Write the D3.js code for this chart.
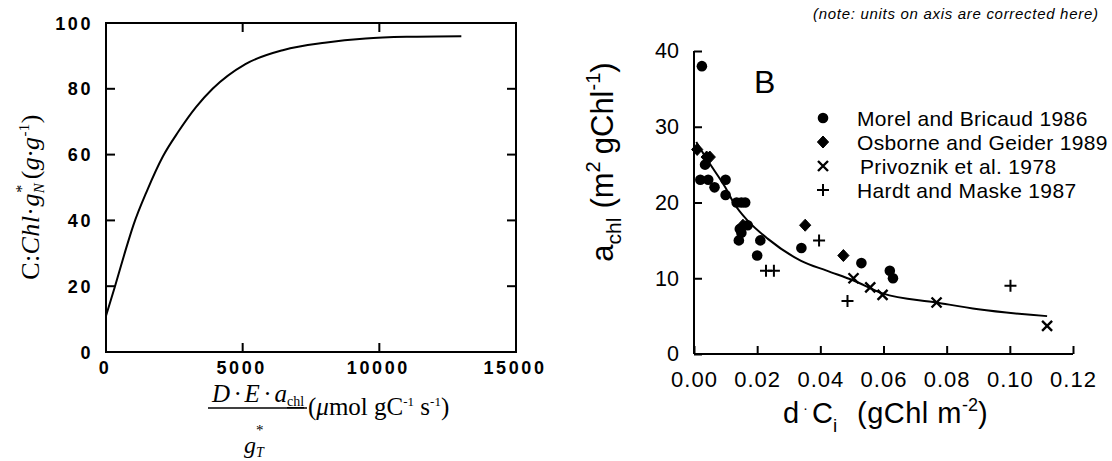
<!DOCTYPE html>
<html>
<head>
<meta charset="utf-8">
<script src="https://cdn.jsdelivr.net/npm/d3@7"></script>
<style>
  body { margin: 0; background: #fff; }
  svg { display: block; }
</style>
</head>
<body>
<svg id="chart" width="1112" height="461"></svg>
<script>
// ---- panel A: saturating curve
const curveAx = [0, 330, 700, 1000, 1500, 2085, 2650, 3300, 3900, 5100, 6500, 8000, 9500, 11000, 13000];
const curveAy = [11, 20, 30.5, 38.5, 49, 59.5, 67, 74.5, 80, 87.5, 91.8, 94, 95.3, 95.8, 96];
const xTicksA = [0, 5000, 10000, 15000];
const yTicksA = [0, 20, 40, 60, 80, 100];

// ---- panel B: scatter + fitted line
const morel = [[0.0025, 38], [0.002, 23], [0.0045, 23], [0.0035, 25], [0.0065, 22], [0.01, 23], [0.01, 21],
  [0.0135, 20], [0.015, 20], [0.0162, 20], [0.0145, 16.5], [0.015, 16], [0.0142, 15], [0.017, 17],
  [0.021, 15], [0.02, 13], [0.034, 14], [0.053, 12], [0.062, 11], [0.063, 10]];
const osborne = [[0.001, 27], [0.004, 26], [0.005, 26], [0.0155, 17], [0.0352, 17], [0.0473, 13]];
const privoznik = [[0.0505, 10], [0.0558, 8.8], [0.0597, 7.8], [0.0768, 6.8], [0.1118, 3.7]];
const hardt = [[0.0228, 11], [0.0253, 11], [0.0396, 15], [0.0486, 7], [0.1002, 9]];
const fitX = [0.0007, 0.0044, 0.0099, 0.0128, 0.017, 0.0234, 0.0339, 0.042, 0.0505, 0.0597, 0.0768, 0.09, 0.1118];
const fitY = [28, 25.5, 22, 19.8, 17.6, 15.2, 12.3, 11, 9.7, 8, 6.8, 5.9, 5];
const xTicksB = [0, 0.02, 0.04, 0.06, 0.08, 0.10, 0.12];
const yTicksB = [0, 10, 20, 30, 40];
const legendLabels = ["Morel and Bricaud 1986", "Osborne and Geider 1989", "Privoznik et al. 1978", "Hardt and Maske 1987"];

const svg = d3.select("#chart");
const sans = "'Liberation Sans', Arial, Helvetica, sans-serif";
const serif = "'Liberation Serif', 'Times New Roman', serif";

// ================= panel A =================
const xA = d3.scaleLinear().domain([0, 15000]).range([106, 516]);
const yA = d3.scaleLinear().domain([0, 100]).range([352, 23]);
const gA = svg.append("g");

gA.append("rect")
  .attr("x", xA(0)).attr("y", yA(100))
  .attr("width", xA(15000) - xA(0)).attr("height", yA(0) - yA(100))
  .attr("fill", "none").attr("stroke", "#000").attr("stroke-width", 2);

// inward ticks on all four sides
const tickA = 9;
gA.selectAll(".tb").data(xTicksA.slice(1, -1)).enter().append("line")
  .attr("x1", d => xA(d)).attr("x2", d => xA(d))
  .attr("y1", yA(0)).attr("y2", yA(0) - tickA)
  .attr("stroke", "#000").attr("stroke-width", 2);
gA.selectAll(".tt").data(xTicksA.slice(1, -1)).enter().append("line")
  .attr("x1", d => xA(d)).attr("x2", d => xA(d))
  .attr("y1", yA(100)).attr("y2", yA(100) + tickA)
  .attr("stroke", "#000").attr("stroke-width", 2);
gA.selectAll(".tl").data(yTicksA.slice(1, -1)).enter().append("line")
  .attr("x1", xA(0)).attr("x2", xA(0) + tickA)
  .attr("y1", d => yA(d)).attr("y2", d => yA(d))
  .attr("stroke", "#000").attr("stroke-width", 2);
gA.selectAll(".tr").data(yTicksA.slice(1, -1)).enter().append("line")
  .attr("x1", xA(15000)).attr("x2", xA(15000) - tickA)
  .attr("y1", d => yA(d)).attr("y2", d => yA(d))
  .attr("stroke", "#000").attr("stroke-width", 2);

// tick labels (bold, widely spaced)
gA.selectAll(".lx").data(xTicksA).enter().append("text")
  .attr("x", d => xA(d) - 1).attr("y", 374)
  .attr("text-anchor", "middle")
  .style("font-family", sans).style("font-weight", "bold")
  .style("font-size", "18px").style("letter-spacing", "2.6px")
  .text(d => d);
gA.selectAll(".ly").data(yTicksA).enter().append("text")
  .attr("x", 93).attr("y", d => yA(d) + 6.5)
  .attr("text-anchor", "end")
  .style("font-family", sans).style("font-weight", "bold")
  .style("font-size", "18px").style("letter-spacing", "2.6px")
  .text(d => d);

// curve
const lineA = d3.line().x(d => xA(d[0])).y(d => yA(d[1])).curve(d3.curveMonotoneX);
gA.append("path")
  .datum(curveAx.map((v, i) => [v, curveAy[i]]))
  .attr("d", lineA)
  .attr("fill", "none").attr("stroke", "#000").attr("stroke-width", 2);

// y title
const tA = gA.append("text")
  .attr("transform", "translate(39,197) rotate(-90)")
  .attr("text-anchor", "middle")
  .style("font-family", serif).style("font-size", "26px").style("letter-spacing", "0.4px");
tA.append("tspan").text("C:");
tA.append("tspan").style("font-style", "italic").text("Chl");
tA.append("tspan").text("\u00b7");
tA.append("tspan").style("font-style", "italic").text("g");
tA.append("tspan").attr("dy", 5).style("font-size", "15px").style("font-style", "italic").text("N");
tA.append("tspan").attr("dx", -10).attr("dy", -17).style("font-size", "16px").text("*");
tA.append("tspan").attr("dx", 5).attr("dy", 12).text("(");
tA.append("tspan").style("font-style", "italic").text("g\u00b7g");
tA.append("tspan").attr("dy", -10).style("font-size", "15px").text("-1");
tA.append("tspan").attr("dy", 10).text(")");

// x title: fraction + units
const num = gA.append("text")
  .attr("x", 258).attr("y", 402).attr("text-anchor", "middle")
  .style("font-family", serif).style("font-size", "25px").style("font-style", "italic");
num.append("tspan").text("D\u2006\u00b7\u2006E\u2006\u00b7\u2006a");
num.append("tspan").attr("dy", 4).style("font-size", "14px").style("font-style", "normal")
  .style("text-decoration", "underline").text("chl");
gA.append("line")
  .attr("x1", 208).attr("x2", 307).attr("y1", 408).attr("y2", 408)
  .attr("stroke", "#000").attr("stroke-width", 1.6);
const den = gA.append("text")
  .attr("x", 254).attr("y", 453).attr("text-anchor", "middle")
  .style("font-family", serif).style("font-size", "24px").style("font-style", "italic");
den.append("tspan").text("g");
den.append("tspan").attr("dy", 4).style("font-size", "14px").text("T");
den.append("tspan").attr("dx", -8).attr("dy", -22).style("font-size", "15px").style("font-style", "normal").text("*");
const unit = gA.append("text")
  .attr("x", 308).attr("y", 415)
  .style("font-family", serif).style("font-size", "25px");
unit.append("tspan").text("(");
unit.append("tspan").style("font-style", "italic").text("\u03bc");
unit.append("tspan").text("mol gC");
unit.append("tspan").attr("dy", -9).style("font-size", "13px").text("-1");
unit.append("tspan").attr("dy", 9).text(" s");
unit.append("tspan").attr("dy", -9).style("font-size", "13px").text("-1");
unit.append("tspan").attr("dy", 9).text(")");

// ================= panel B =================
const xB = d3.scaleLinear().domain([0, 0.12]).range([694, 1073]);
const yB = d3.scaleLinear().domain([0, 40]).range([354, 51]);
const gB = svg.append("g");

gB.append("g")
  .attr("transform", `translate(0,${yB(0)})`)
  .call(d3.axisBottom(xB).tickValues(xTicksB).tickFormat(d3.format(".2f")).tickSize(-8).tickPadding(17))
  .call(g => g.select(".domain").attr("stroke-width", 2).attr("d", `M${xB(0)},0H${xB(0.12)}`))
  .call(g => g.selectAll(".tick line").attr("stroke-width", 2))
  .call(g => g.selectAll("text").style("font-family", sans).style("font-size", "22px")
    .style("letter-spacing", "1px").attr("fill", "#000"));

gB.append("g")
  .attr("transform", `translate(${xB(0)},0)`)
  .call(d3.axisLeft(yB).tickValues(yTicksB).tickFormat(d3.format("d")).tickSize(-8).tickPadding(15))
  .call(g => g.select(".domain").attr("stroke-width", 2).attr("d", `M0,${yB(40)}V${yB(0)}`))
  .call(g => g.selectAll(".tick line").attr("stroke-width", 2))
  .call(g => g.selectAll("text").style("font-family", sans).style("font-size", "21.5px").attr("fill", "#000"));

// fitted line
const lineB = d3.line().x(d => xB(d[0])).y(d => yB(d[1])).curve(d3.curveMonotoneX);
gB.append("path")
  .datum(fitX.map((v, i) => [v, fitY[i]]))
  .attr("d", lineB)
  .attr("fill", "none").attr("stroke", "#000").attr("stroke-width", 2);

// markers
const drawCircle = (sel, x, y) => sel.append("circle").attr("cx", x).attr("cy", y).attr("r", 5.3).attr("fill", "#000");
const drawDiamond = (sel, x, y) => sel.append("path").attr("d", "M0,-6L5.6,0L0,6L-5.6,0Z")
  .attr("transform", `translate(${x},${y})`).attr("fill", "#000")
  .attr("stroke", "#000").attr("stroke-width", 1).attr("stroke-linejoin", "round");
const drawX = (sel, x, y) => sel.append("path").attr("d", "M-5,-5L5,5M-5,5L5,-5")
  .attr("transform", `translate(${x},${y})`).attr("stroke", "#000").attr("stroke-width", 2.4);
const drawPlus = (sel, x, y) => sel.append("path").attr("d", "M-6,0H6M0,-6V6")
  .attr("transform", `translate(${x},${y})`).attr("stroke", "#000").attr("stroke-width", 2);

const series = [morel, osborne, privoznik, hardt];
const drawers = [drawCircle, drawDiamond, drawX, drawPlus];
series.forEach((s, k) => {
  const g = gB.append("g");
  s.forEach(d => drawers[k](g, xB(d[0]), yB(d[1])));
});

// legend
const legRows = [118, 142, 166, 190];
legendLabels.forEach((lab, k) => {
  drawers[k](gB, 823, legRows[k]);
  gB.append("text")
    .attr("x", k === 2 ? 860 : 857).attr("y", legRows[k] + 8)
    .style("font-family", sans).style("font-size", "21px").style("letter-spacing", "0.35px")
    .text(lab);
});

// panel letter and note
gB.append("text").attr("x", 754).attr("y", 93)
  .style("font-family", sans).style("font-size", "32px").text("B");
gB.append("text").attr("x", 813).attr("y", 19)
  .style("font-family", sans).style("font-size", "15px").style("font-style", "italic")
  .style("letter-spacing", "0.7px")
  .text("(note: units on axis are corrected here)");

// axis titles
const tx = gB.append("text").attr("y", 423)
  .style("font-family", sans).style("font-size", "29px");
tx.append("tspan").attr("x", 783).text("d");
tx.append("tspan").attr("x", 803).attr("dy", -10).style("font-size", "15px").text("\u00b7");
tx.append("tspan").attr("x", 812).attr("dy", 10).text("C");
tx.append("tspan").attr("dy", 9).style("font-size", "19px").text("i");
tx.append("tspan").attr("x", 857).attr("dy", -9).style("letter-spacing", "0.5px").text("(gChl m");
tx.append("tspan").attr("dy", -12).style("font-size", "18px").text("-2");
tx.append("tspan").attr("dy", 12).text(")");

const ty = gB.append("text")
  .attr("transform", "translate(613,162) rotate(-90)")
  .attr("text-anchor", "middle")
  .style("font-family", sans).style("font-size", "31px");
ty.append("tspan").text("a");
ty.append("tspan").attr("dy", 8).style("font-size", "21px").text("chl");
ty.append("tspan").attr("dx", 9).attr("dy", -8).text("(m");
ty.append("tspan").attr("dy", -13).style("font-size", "20px").text("2");
ty.append("tspan").attr("dx", 7).attr("dy", 13).text("gChl");
ty.append("tspan").attr("dy", -13).style("font-size", "20px").text("-1");
ty.append("tspan").attr("dy", 13).text(")");
</script>
</body>
</html>
